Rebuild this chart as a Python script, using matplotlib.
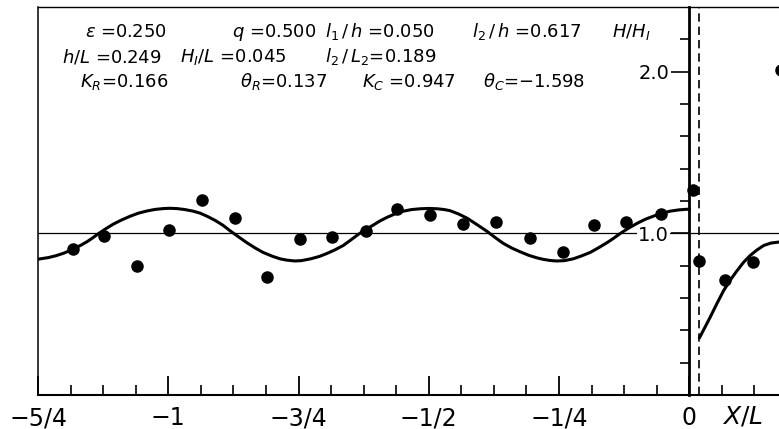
import matplotlib.pyplot as plt
from matplotlib.ticker import MultipleLocator, FixedLocator

plt.rcParams['font.family'] = ['DejaVu Sans']
plt.rcParams['mathtext.fontset'] = 'dejavusans'

# smooth curve, left of the structure (X/L < 0)
curve_left_x = [-1.250, -1.230, -1.215, -1.200, -1.182, -1.168, -1.156, -1.145, -1.134, -1.120,
                -1.106, -1.090, -1.073, -1.057, -1.040, -1.025, -1.010, -0.997, -0.983, -0.968,
                -0.952, -0.939, -0.925, -0.910, -0.895, -0.881, -0.865, -0.850, -0.834, -0.818,
                -0.800, -0.785, -0.772, -0.757, -0.745, -0.727, -0.710, -0.695, -0.680, -0.664,
                -0.650, -0.635, -0.621, -0.607, -0.594, -0.580, -0.565, -0.549, -0.533, -0.516,
                -0.500, -0.484, -0.470, -0.459, -0.443, -0.426, -0.407, -0.388, -0.373, -0.357,
                -0.340, -0.324, -0.308, -0.292, -0.280, -0.267, -0.255, -0.240, -0.223, -0.207,
                -0.190, -0.174, -0.157, -0.145, -0.132, -0.116, -0.100, -0.085, -0.069, -0.053,
                -0.037, -0.020, -0.004, 0.000]
curve_left_y = [0.840, 0.850, 0.862, 0.878, 0.903, 0.926, 0.948, 0.972, 0.998, 1.028,
                1.056, 1.082, 1.106, 1.125, 1.139, 1.148, 1.153, 1.155, 1.153, 1.147,
                1.137, 1.125, 1.105, 1.080, 1.050, 1.015, 0.978, 0.944, 0.911, 0.882,
                0.858, 0.842, 0.834, 0.829, 0.831, 0.842, 0.857, 0.876, 0.898, 0.925,
                0.958, 0.994, 1.024, 1.050, 1.076, 1.099, 1.120, 1.137, 1.147, 1.152,
                1.154, 1.152, 1.147, 1.140, 1.120, 1.093, 1.053, 1.012, 0.975, 0.938,
                0.908, 0.885, 0.864, 0.848, 0.839, 0.832, 0.829, 0.831, 0.842, 0.860,
                0.882, 0.911, 0.944, 0.970, 1.000, 1.033, 1.062, 1.086, 1.106, 1.123,
                1.137, 1.145, 1.149, 1.149]

# smooth curve, right of the structure
curve_right_x = [0.020, 0.030, 0.040, 0.053, 0.066, 0.079, 0.092, 0.104, 0.117, 0.130,
                 0.143, 0.157, 0.172]
curve_right_y = [0.356, 0.418, 0.480, 0.565, 0.646, 0.712, 0.770, 0.820, 0.863, 0.897,
                 0.925, 0.940, 0.946]

# measured points
pt_x = [-1.183, -1.123, -1.060, -0.998, -0.935, -0.872, -0.811, -0.747, -0.685, -0.621,
        -0.560, -0.497, -0.434, -0.370, -0.306, -0.243, -0.182, -0.122, -0.055, 0.007,
        0.019, 0.068, 0.122, 0.176]
pt_y = [0.901, 0.986, 0.797, 1.023, 1.209, 1.095, 0.731, 0.963, 0.975, 1.017,
        1.150, 1.112, 1.060, 1.073, 0.973, 0.884, 1.054, 1.073, 1.120, 1.271,
        0.829, 0.711, 0.825, 2.012]

xtick_pos = [-1.25, -1.0, -0.75, -0.5, -0.25, 0.0]
xtick_lab = ['\u22125/4', '\u22121', '\u22123/4', '\u22121/2', '\u22121/4', '0']
ytick_pos = [1.0, 2.0]
ytick_lab = ['1.0', '2.0']
ytick_minor = [0.2, 0.4, 0.6, 0.8, 1.2, 1.4, 1.6, 1.8, 2.2]
x_front = 0.019

params = [
    (85, 37, r'$\varepsilon$ =0.250'),
    (232, 37, r'$q$ =0.500'),
    (325, 37, r'$l_1\,/\,h$ =0.050'),
    (472, 37, r'$l_2\,/\,h$ =0.617'),
    (62, 62, r'$h/L$ =0.249'),
    (180, 62, r'$H_I/L$ =0.045'),
    (325, 62, r'$l_2\,/\,L_2$=0.189'),
    (80, 87, r'$K_R$=0.166'),
    (240, 87, r'$\theta_R$=0.137'),
    (362, 87, r'$K_C$ =0.947'),
    (483, 87, r'$\theta_C$=' + '\u22121.598'),
]

W, H = 779, 429
fig = plt.figure(figsize=(W / 100, H / 100), dpi=100)
ax = fig.add_axes([38 / W, 34 / H, (W - 38) / W, (395 - 7) / H])

ax.axhline(1.0, color='black', lw=0.9, zorder=1)
ax.axvline(x_front, color='black', lw=1.2, ls=(0, (5, 3)))
ax.axvline(-1.25, color='black', lw=1.1, clip_on=False)
ax.plot(curve_left_x, curve_left_y, color='black', lw=2.2)
ax.plot(curve_right_x, curve_right_y, color='black', lw=2.2)
ax.plot(pt_x, pt_y, 'o', color='black', ms=8)

ax.set_xlim(-1.25, -1.25 + 741 / 521)
ax.set_ylim(0, 2.4)

ax.spines['right'].set_visible(False)
ax.spines['left'].set_position(('data', 0))
ax.spines['left'].set_linewidth(2.0)
ax.spines['bottom'].set_linewidth(1.5)
ax.spines['top'].set_linewidth(1.0)

ax.set_xticks(xtick_pos, xtick_lab)
ax.xaxis.set_minor_locator(MultipleLocator(1 / 16))
ax.tick_params(axis='x', which='major', direction='in', length=14, width=1.3, pad=8, labelsize=17)
ax.tick_params(axis='x', which='minor', direction='in', length=7, width=1.2)

ax.set_yticks(ytick_pos, ytick_lab)
ax.yaxis.set_minor_locator(FixedLocator(ytick_minor))
ax.tick_params(axis='y', which='major', direction='out', length=13, width=1.2, pad=1.5, labelsize=14)
ax.tick_params(axis='y', which='minor', direction='out', length=6.5, width=1.2)
for lbl in ax.get_yticklabels():
    lbl.set_bbox(dict(facecolor='white', edgecolor='none', pad=1))

for px, py, s in params:
    fig.text(px / W, 1 - py / H, s, fontsize=13, va='baseline', ha='left')
fig.text(612 / W, 1 - 37 / H, r'$H/H_I$', fontsize=13, va='baseline', ha='left')
fig.text(722 / W, 1 - 423 / H, r'$X/L$', fontsize=18, va='baseline', ha='left')

fig.savefig('out.png', dpi=100)
